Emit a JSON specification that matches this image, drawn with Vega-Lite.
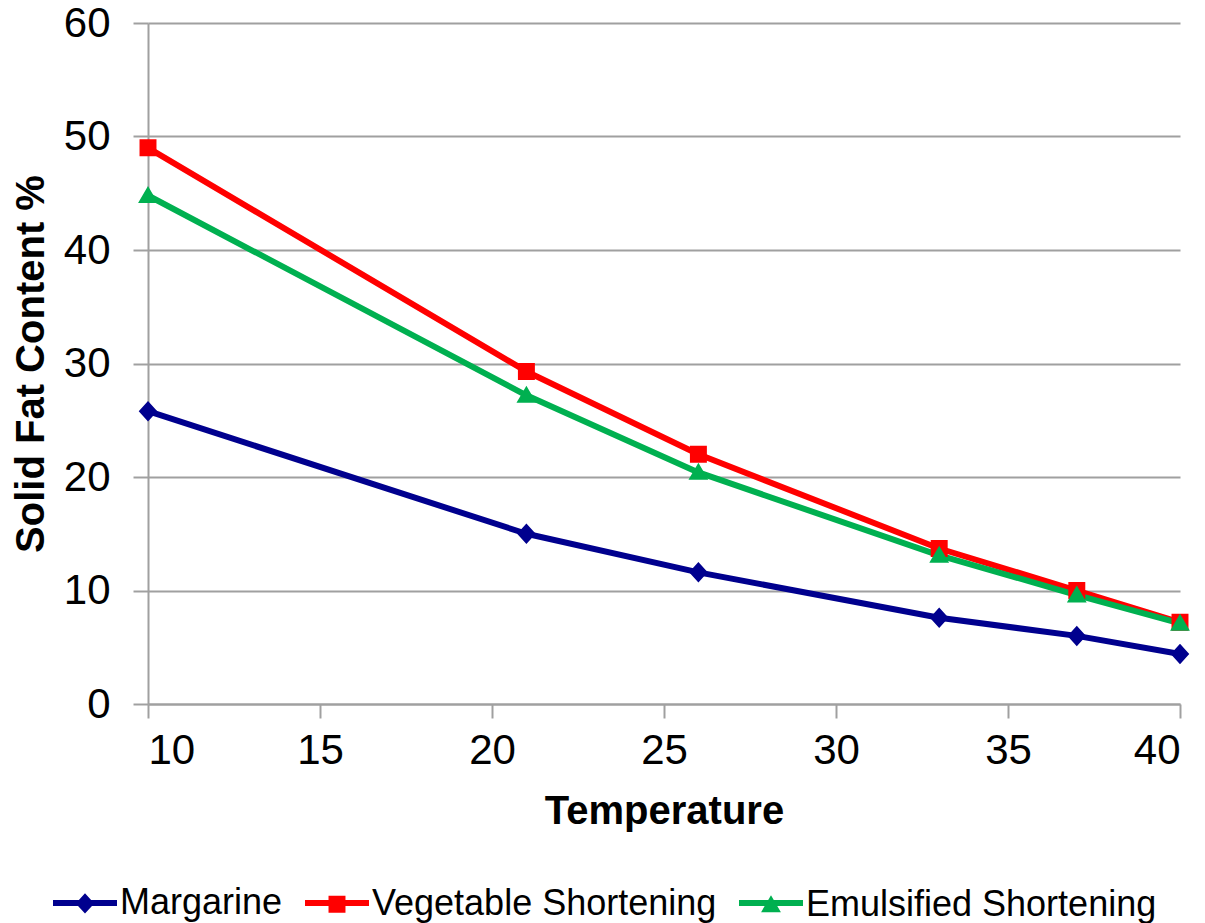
{
  "$schema": "https://vega.github.io/schema/vega-lite/v6.json",
  "width": 1032,
  "height": 681,
  "autosize": {"type": "none"},
  "padding": {"left": 148, "top": 23, "right": 25, "bottom": 219},
  "background": "white",
  "config": {
    "font": "Liberation Sans",
    "view": {"stroke": null},
    "axis": {
      "domainColor": "#a0a0a0",
      "domainWidth": 2,
      "tickColor": "#a0a0a0",
      "tickWidth": 2,
      "gridColor": "#a0a0a0",
      "gridWidth": 2,
      "labelColor": "black",
      "labelFontSize": 42,
      "labelFont": "Liberation Sans",
      "titleColor": "black",
      "titleFont": "Liberation Sans",
      "titleFontWeight": "bold"
    },
    "legend": {
      "title": null,
      "orient": "none",
      "direction": "horizontal",
      "legendX": -98,
      "legendY": 845,
      "labelFontSize": 36,
      "labelColor": "black",
      "labelFont": "Liberation Sans",
      "labelLimit": 0,
      "labelOffset": 0,
      "columnPadding": 10,
      "symbolSize": 4096,
      "symbolStrokeWidth": 6
    }
  },
  "data": {
    "values": [
      {"series": "Margarine", "temp": 10, "sfc": 25.8},
      {"series": "Margarine", "temp": 21, "sfc": 15.0},
      {"series": "Margarine", "temp": 26, "sfc": 11.6},
      {"series": "Margarine", "temp": 33, "sfc": 7.6},
      {"series": "Margarine", "temp": 37, "sfc": 6.0},
      {"series": "Margarine", "temp": 40, "sfc": 4.4},
      {"series": "Vegetable Shortening", "temp": 10, "sfc": 49.0},
      {"series": "Vegetable Shortening", "temp": 21, "sfc": 29.3},
      {"series": "Vegetable Shortening", "temp": 26, "sfc": 22.0},
      {"series": "Vegetable Shortening", "temp": 33, "sfc": 13.7},
      {"series": "Vegetable Shortening", "temp": 37, "sfc": 10.0},
      {"series": "Vegetable Shortening", "temp": 40, "sfc": 7.2},
      {"series": "Emulsified Shortening", "temp": 10, "sfc": 44.8},
      {"series": "Emulsified Shortening", "temp": 21, "sfc": 27.2},
      {"series": "Emulsified Shortening", "temp": 26, "sfc": 20.4},
      {"series": "Emulsified Shortening", "temp": 33, "sfc": 13.1},
      {"series": "Emulsified Shortening", "temp": 37, "sfc": 9.6},
      {"series": "Emulsified Shortening", "temp": 40, "sfc": 7.1}
    ]
  },
  "encoding": {
    "x": {
      "field": "temp",
      "type": "quantitative",
      "scale": {"domain": [10, 40], "nice": false, "zero": false},
      "axis": {
        "title": "Temperature",
        "titleFontSize": 40,
        "titlePadding": 20,
        "values": [10, 15, 20, 25, 30, 35, 40],
        "grid": false,
        "tickSize": 14,
        "labelPadding": 12
      }
    },
    "y": {
      "field": "sfc",
      "type": "quantitative",
      "scale": {"domain": [0, 60], "nice": false},
      "axis": {
        "title": "Solid Fat Content %",
        "titleFontSize": 40,
        "titlePadding": 12,
        "values": [0, 10, 20, 30, 40, 50, 60],
        "grid": true,
        "tickSize": 15,
        "labelPadding": 23
      }
    }
  },
  "resolve": {"legend": {"color": "independent", "shape": "independent"}},
  "layer": [
    {
      "mark": {"type": "line", "strokeWidth": 6, "strokeJoin": "round"},
      "encoding": {
        "color": {
          "field": "series",
          "type": "nominal",
          "scale": {
            "domain": ["Margarine", "Vegetable Shortening", "Emulsified Shortening"],
            "range": ["#00008e", "#ff0000", "#00b050"]
          },
          "legend": {
            "symbolType": "stroke",
            "labelOpacity": 0
          }
        }
      }
    },
    {
      "mark": {"type": "point", "filled": true, "opacity": 1, "strokeWidth": 6, "size": 4096},
      "encoding": {
        "color": {
          "field": "series",
          "type": "nominal",
          "legend": {
            "symbolStrokeColor": "transparent"
          }
        },
        "shape": {
          "field": "series",
          "type": "nominal",
          "scale": {
            "domain": ["Margarine", "Vegetable Shortening", "Emulsified Shortening"],
            "range": [
              "M-1,0L1,0M0,-0.32L0.29,0L0,0.32L-0.29,0Z",
              "M-1,0L1,0M-0.265,-0.265H0.265V0.265H-0.265Z",
              "M-1,0L1,0M0,-0.3L0.31,0.23H-0.31Z"
            ]
          },
          "legend": {
            "symbolStrokeColor": "transparent"
          }
        }
      }
    }
  ]
}
